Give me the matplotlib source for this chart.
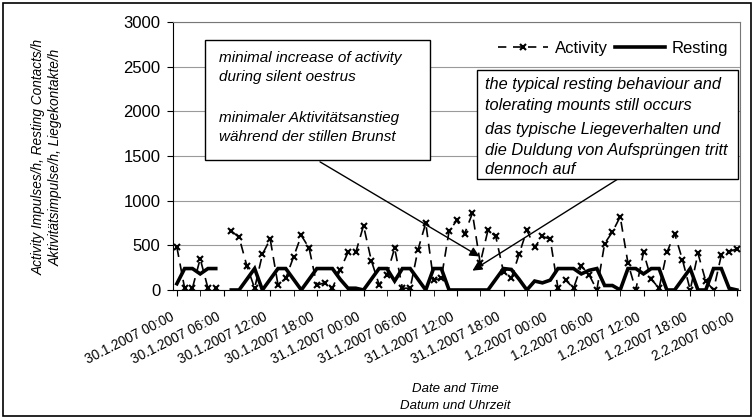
import numpy as np
import matplotlib
matplotlib.use("Agg")
import matplotlib.pyplot as plt
import matplotlib.transforms as mtransforms
from matplotlib.lines import Line2D
from matplotlib.patches import Rectangle

plt.rcParams['font.family'] = ['Liberation Sans', 'DejaVu Sans']

nan = np.nan
# hourly values, 30.1.2007 00:00 .. 2.2.2007 00:00
activity = [480, 20, 20, 350, 20, 20, nan, 660, 590, 270,
            20, 400, 570, 60, 130, 370, 610, 470, 55, 80,
            20, 225, 420, 420, 720, 330, 60, 170, 470, 20,
            20, 450, 750, 110, 130, 660, 780, 630, 860, 300,
            670, 600, 200, 130, 400, 670, 480, 600, 570, 20,
            110, 20, 270, 170, 0, 520, 650, 820, 300, 0,
            420, 120, 20, 420, 630, 340, 0, 410, 100, 0,
            390, 430, 460]
resting = [70, 240, 240, 180, 240, 240, nan, 0, 0, 120,
           240, 0, 120, 240, 240, 120, 0, 120, 240, 240,
           240, 120, 20, 20, 0, 120, 240, 240, 100, 240,
           240, 120, 0, 240, 240, 0, 0, 0, 0, 0,
           0, 120, 240, 230, 120, 0, 100, 80, 110, 240,
           240, 240, 180, 220, 240, 50, 50, 0, 240, 240,
           180, 240, 240, 0, 0, 120, 240, 0, 0, 240,
           240, 20, 0]
tick_labels = ['30.1.2007 00:00', '30.1.2007 06:00', '30.1.2007 12:00',
               '30.1.2007 18:00', '31.1.2007 00:00', '31.1.2007 06:00',
               '31.1.2007 12:00', '31.1.2007 18:00', '1.2.2007 00:00',
               '1.2.2007 06:00', '1.2.2007 12:00', '1.2.2007 18:00',
               '2.2.2007 00:00']

hours = np.arange(len(activity))

fig = plt.figure(figsize=(7.54, 4.19), dpi=100)
ax = fig.add_axes([0.2294, 0.3079, 0.752, 0.6396])

ax.plot(hours, activity, color='black', lw=1.2, ls=(0, (6, 4)),
        marker='x', ms=5, mew=1.5, zorder=3)
ax.plot(hours, resting, color='black', lw=2.6, solid_joinstyle='miter', zorder=2)

ax.set_xlim(-0.5, 72.4)
ax.set_ylim(0, 3000)
ax.set_yticks(range(0, 3001, 500))
ax.yaxis.grid(True, color='#9a9a9a', lw=0.8)
ax.set_axisbelow(True)
ax.set_xticks(hours[::6])
ax.set_xticks(hours[3::6], minor=True)
ax.set_xticklabels([])
ax.tick_params(axis='y', labelsize=12, length=4, pad=5)
ax.tick_params(axis='x', which='both', length=4, direction='out')
for s in ['top', 'right']:
    ax.spines[s].set_color('#777777')
for s in ['left', 'bottom']:
    ax.spines[s].set_color('black')

# rotated date labels, right end just left of and below each tick
lab_tr = mtransforms.blended_transform_factory(ax.transData, ax.transAxes) + \
    mtransforms.ScaledTranslation(-7 / 100, 0, fig.dpi_scale_trans)
for pos, lab in zip(hours[::6], tick_labels):
    ax.text(pos, -0.075, lab, transform=lab_tr, rotation=27, ha='right', va='top',
            rotation_mode='anchor', fontsize=9.8, clip_on=False)

leg_handles = [
    Line2D([], [], color='black', lw=1.2, ls=(0, (5, 4)), marker='x', ms=5, mew=1.5),
    Line2D([], [], color='black', lw=2.6),
]
ax.legend(leg_handles, ['Activity', 'Resting'], ncol=2, loc='upper right',
          bbox_to_anchor=(1.005, 0.985), frameon=False, fontsize=12,
          handlelength=3.0, handletextpad=0.4, columnspacing=0.4, numpoints=1)

# annotation boxes
ax.add_patch(Rectangle((0.0564, 0.4851), 0.3968, 0.4479, transform=ax.transAxes,
                       facecolor='white', edgecolor='black', lw=1.0, zorder=5))
ax.add_patch(Rectangle((0.5362, 0.4142), 0.4603, 0.4067, transform=ax.transAxes,
                       facecolor='white', edgecolor='black', lw=1.0, zorder=5))
box1 = ['minimal increase of activity', 'during silent oestrus',
        'minimaler Aktivitätsanstieg', 'während der stillen Brunst']
for txt, yy in zip(box1, [0.866, 0.795, 0.642, 0.571]):
    ax.text(0.0811, yy, txt, transform=ax.transAxes, style='italic',
            fontsize=11, va='center', ha='left', zorder=6)
box2 = ['the typical resting behaviour and', 'tolerating mounts still occurs',
        'das typische Liegeverhalten und', 'die Duldung von Aufsprüngen tritt',
        'dennoch auf']
for txt, yy in zip(box2, [0.765, 0.690, 0.597, 0.522, 0.448]):
    ax.text(0.5503, yy, txt, transform=ax.transAxes, style='italic',
            fontsize=11.8, va='center', ha='left', zorder=6)

arrow = dict(arrowstyle='-|>', color='black', lw=1.0, mutation_scale=14)
ax.annotate('', xy=(39.2, 360), xytext=(18.1, 1450), arrowprops=arrow, zorder=4)
ax.annotate('', xy=(37.7, 200), xytext=(56.9, 1253), arrowprops=arrow, zorder=4)

fig.text(47 / 754, 1 - 157 / 419,
         'Activity Impulses/h, Resting Contacts/h\nAktivitätsimpulse/h, Liegekontakte/h',
         rotation=90, ha='center', va='center', ma='center', style='italic',
         fontsize=9.8, linespacing=1.25)
fig.text(455 / 754, 1 - 389 / 419, 'Date and Time', ha='center', va='center',
         style='italic', fontsize=9.5)
fig.text(455 / 754, 1 - 406 / 419, 'Datum und Uhrzeit', ha='center', va='center',
         style='italic', fontsize=9.5)

fig.add_artist(Rectangle((0.004, 0.007), 0.992, 0.986, transform=fig.transFigure,
                         fill=False, edgecolor='black', lw=1.2))

fig.savefig('out.png', dpi=100)
